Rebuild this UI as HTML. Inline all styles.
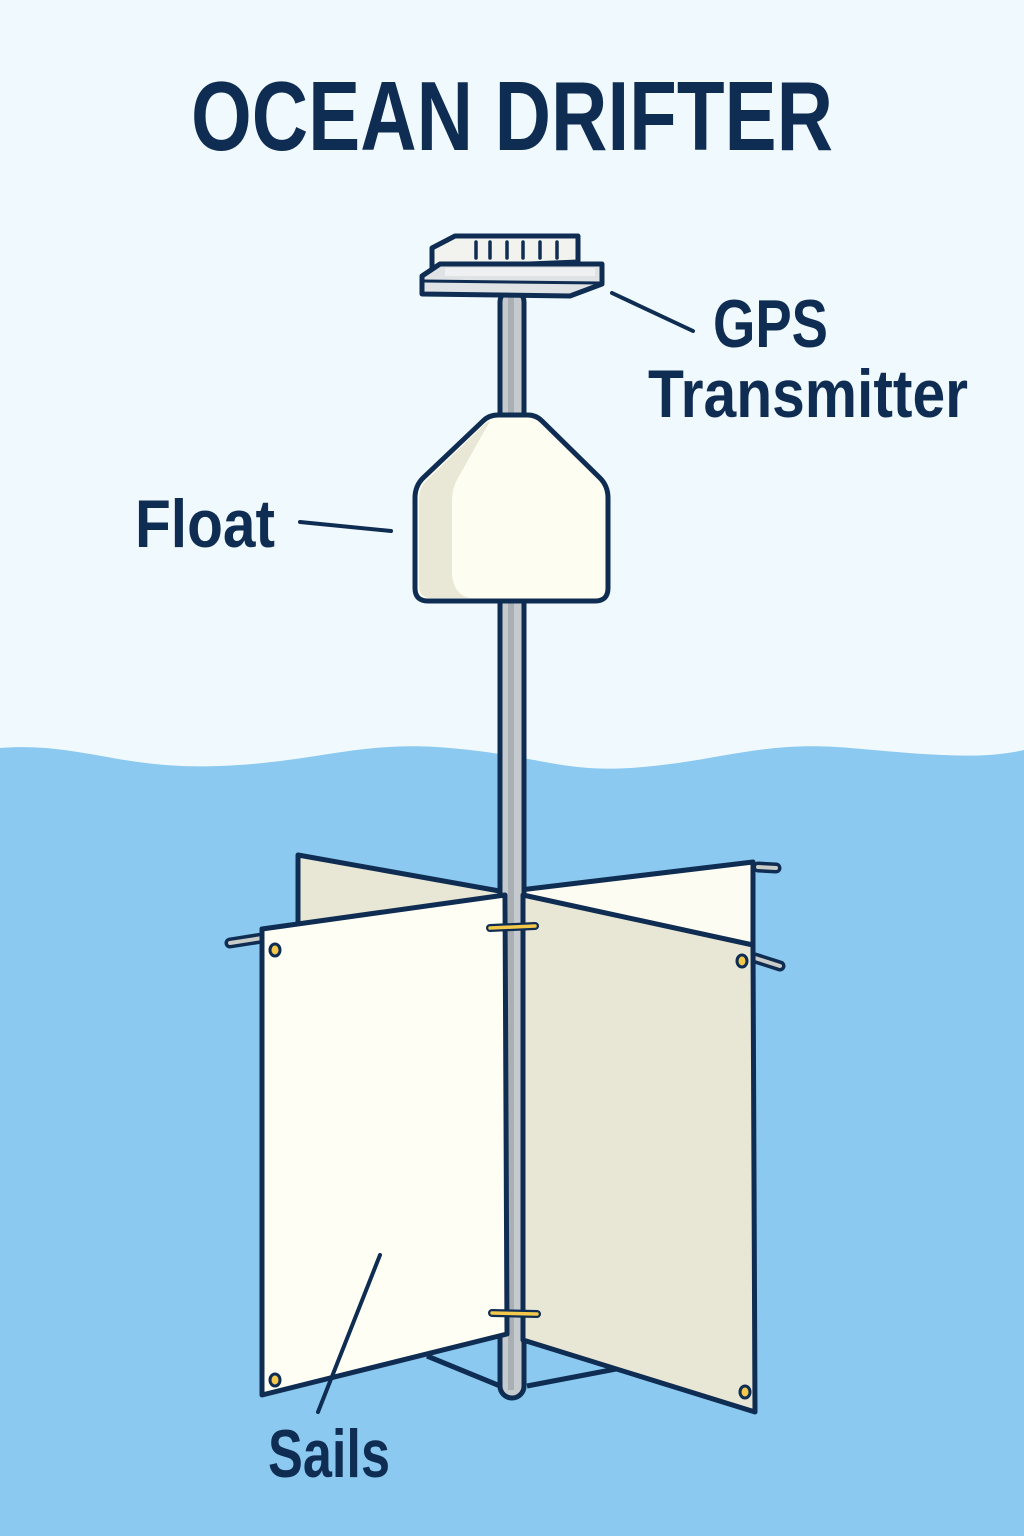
<!DOCTYPE html>
<html><head><meta charset="utf-8"><style>html,body{margin:0;padding:0;background:#f0f9fe}svg{display:block}</style></head><body>
<svg width="1024" height="1536" viewBox="0 0 1024 1536" xmlns="http://www.w3.org/2000/svg">
<rect width="1024" height="1536" fill="#f0f9fe"/>
<path d="M0 748 C80 742 120 770 220 766 C320 762 360 740 450 748 C540 756 560 772 630 768 C720 762 760 740 850 748 C930 755 980 760 1024 750 L1024 1536 L0 1536 Z" fill="#8bc9f0"/>
<text x="512" y="150" text-anchor="middle" font-family="Liberation Sans, sans-serif" font-weight="bold" font-size="98" fill="#0f2d52" textLength="642" lengthAdjust="spacingAndGlyphs">OCEAN DRIFTER</text>
<g font-family="Liberation Sans, sans-serif" font-weight="bold" fill="#0f2d52">
<text x="713" y="347" font-size="68" textLength="115" lengthAdjust="spacingAndGlyphs">GPS</text>
<text x="648" y="417" font-size="68" textLength="320" lengthAdjust="spacingAndGlyphs">Transmitter</text>
<text x="135" y="547" font-size="68" textLength="140" lengthAdjust="spacingAndGlyphs">Float</text>
<text x="268" y="1477" font-size="68" textLength="122" lengthAdjust="spacingAndGlyphs">Sails</text>
</g>
<g stroke="#0f2d52" stroke-width="4" stroke-linecap="round" fill="none">
<line x1="612" y1="293" x2="693" y2="331"/>
<line x1="300" y1="522" x2="391" y2="531"/>
</g>
<g stroke="#0f2d52" stroke-width="5" stroke-linejoin="round">
<polygon points="298,855 505,892 505,1010 298,1010" fill="#e8e6d4"/>
<polygon points="520,890 753,862 753,1010 520,1010" fill="#fcfcf2"/>
<line x1="427" y1="1356" x2="505" y2="1388"/>
<line x1="527" y1="1386" x2="616" y2="1369"/>
</g>
<g stroke="#0f2d52" stroke-width="11" stroke-linecap="round"><line x1="230" y1="943" x2="262" y2="938"/><line x1="758" y1="867" x2="776" y2="868"/><line x1="755" y1="958" x2="780" y2="966"/></g>
<g stroke="#c9ccc8" stroke-width="4" stroke-linecap="round"><line x1="230" y1="943" x2="262" y2="938"/><line x1="758" y1="867" x2="776" y2="868"/><line x1="755" y1="958" x2="780" y2="966"/></g>
<rect x="500" y="290" width="24" height="1108" rx="12" fill="#c4cace" stroke="#0f2d52" stroke-width="5"/>
<rect x="508" y="295" width="6" height="1095" fill="#a9afb2"/>
<g stroke="#0f2d52" stroke-width="5" stroke-linejoin="round">
<polygon points="262,929 505,895 507,1334 262,1395" fill="#fefef4"/>
<polygon points="523,895 753,945 755,1412 523,1340" fill="#e8e6d4"/>
</g>
<g fill="#f3c84b" stroke="#0f2d52" stroke-width="3">
<ellipse cx="275" cy="950" rx="5" ry="6"/><ellipse cx="742" cy="961" rx="5" ry="6"/><ellipse cx="275" cy="1380" rx="5" ry="6"/><ellipse cx="745" cy="1392" rx="5" ry="6"/>
</g>
<g stroke="#0f2d52" stroke-width="8" stroke-linecap="round"><line x1="490" y1="928" x2="535" y2="926"/><line x1="492" y1="1313" x2="537" y2="1314"/></g>
<g stroke="#f3c84b" stroke-width="3.5" stroke-linecap="round"><line x1="490" y1="928" x2="535" y2="926"/><line x1="492" y1="1313" x2="537" y2="1314"/></g>
<line x1="380" y1="1255" x2="318" y2="1412" stroke="#0f2d52" stroke-width="4" stroke-linecap="round"/>
<path d="M498 415 L528 415 Q536 415 542 421 L600 478 Q608 486 608 498 L608 588 Q608 601 595 601 L428 601 Q415 601 415 588 L415 498 Q415 486 423 478 L483 421 Q489 415 498 415 Z" fill="#fdfdf2" stroke="#0f2d52" stroke-width="5"/>
<path d="M490 421 L458 478 Q452 488 452 500 L452 575 Q454 595 470 598 L430 598 Q419 597 419 586 L419 500 Q419 488 426 481 L486 423 Z" fill="#e9e8d6"/>
<g stroke="#0f2d52" stroke-width="5" stroke-linejoin="round">
<polygon points="432,248 455,236 578,236 578,262 432,268" fill="#f2f3ee"/>
<polygon points="422,276 440,264 602,264 602,284 570,296 422,294" fill="#dfe3e6"/>
<line x1="424" y1="281" x2="600" y2="283" stroke-width="3"/>
</g>
<rect x="445" y="268" width="150" height="8" fill="#eef0f2"/>
<g stroke="#0f2d52" stroke-width="3.5" stroke-linecap="round">
<line x1="476" y1="242" x2="476" y2="258"/><line x1="490" y1="242" x2="490" y2="258"/><line x1="507" y1="242" x2="507" y2="258"/><line x1="523" y1="242" x2="523" y2="258"/><line x1="540" y1="242" x2="540" y2="258"/><line x1="557" y1="242" x2="557" y2="258"/>
</g>
</svg>
</body></html>
